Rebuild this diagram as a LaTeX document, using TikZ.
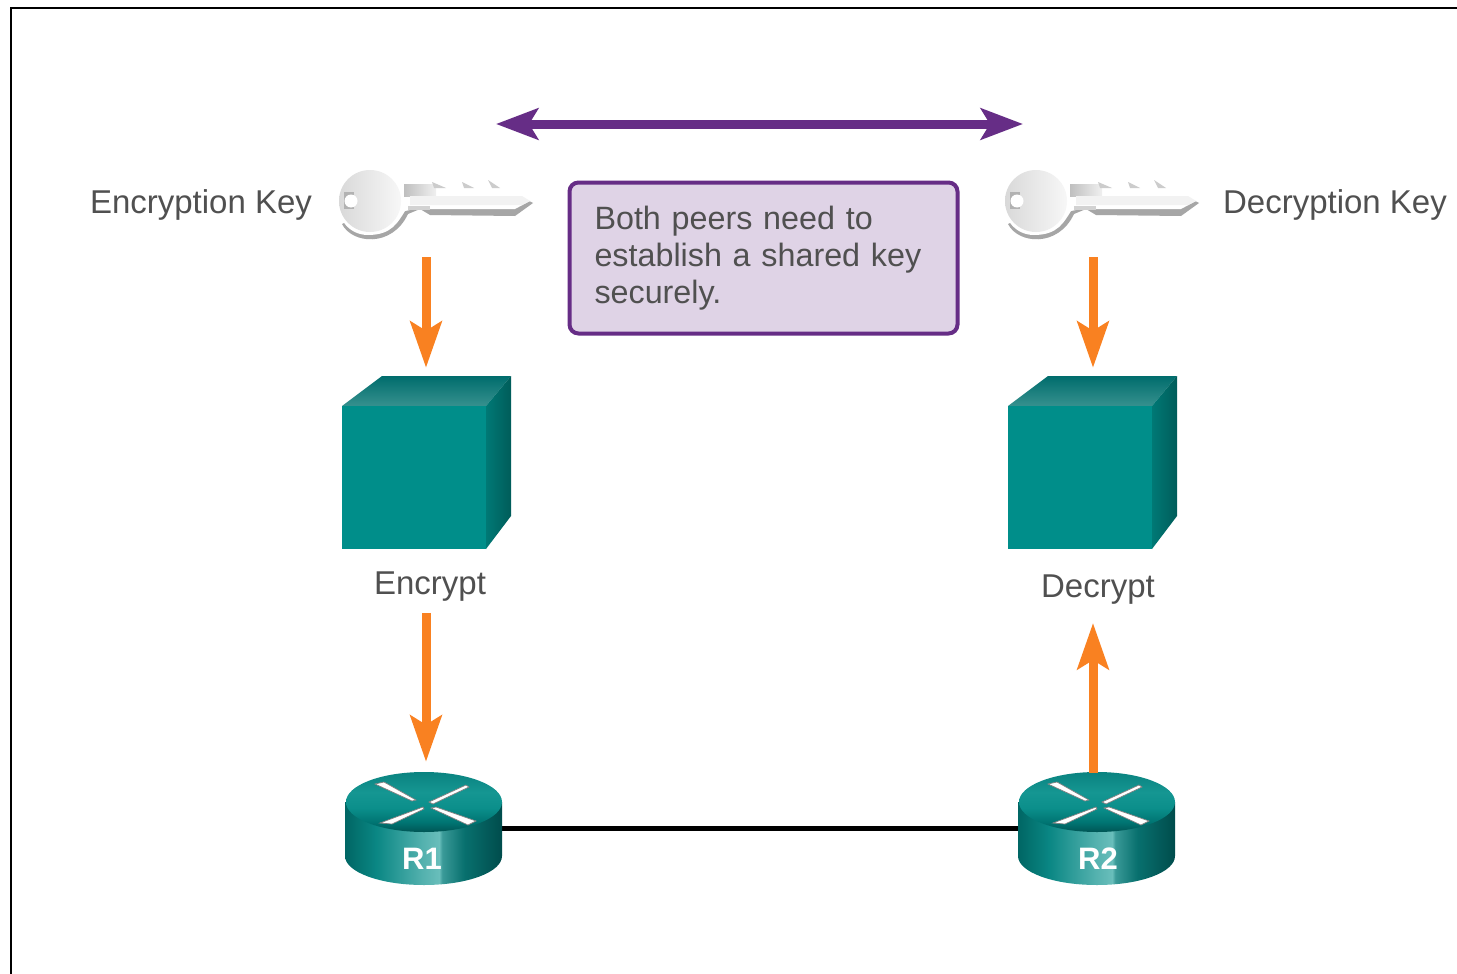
\documentclass[tikz,border=0pt]{standalone}
\usepackage{fontspec}
\setmainfont{Liberation Sans}
\usetikzlibrary{arrows.meta}
\definecolor{txt}{HTML}{505050}
\definecolor{purp}{HTML}{662D86}
\definecolor{boxfill}{HTML}{DFD3E6}
\definecolor{orng}{HTML}{F98121}
\definecolor{cubefront}{HTML}{008E8A}
\definecolor{rsA}{HTML}{006664}
\definecolor{rsB}{HTML}{0A8784}
\definecolor{rsC}{HTML}{55B2AF}
\definecolor{rsD}{HTML}{69BEBB}
\definecolor{rsE}{HTML}{3A9A98}
\definecolor{rsF}{HTML}{08706E}
\definecolor{rsG}{HTML}{004C4C}
\definecolor{rtA}{HTML}{005554}
\definecolor{rtB}{HTML}{007472}
\definecolor{rtC}{HTML}{0B8F8B}
\definecolor{rtD}{HTML}{159692}
\definecolor{rtE}{HTML}{0A8380}
\pgfdeclarehorizontalshading{routerside}{100bp}{
  color(0bp)=(rsA);
  color(25bp)=(rsA);
  color(35bp)=(rsB);
  color(50bp)=(rsC);
  color(55bp)=(rsD);
  color(56bp)=(rsE);
  color(63bp)=(rsF);
  color(75bp)=(rsG);
  color(100bp)=(rsG)}
\pgfdeclareverticalshading{routertop}{100bp}{
  color(0bp)=(rtA);
  color(25bp)=(rtA);
  color(33bp)=(rtB);
  color(45bp)=(rtC);
  color(58bp)=(rtD);
  color(75bp)=(rtE);
  color(100bp)=(rtE)}
\tikzset{
  every node/.style={font=\fontsize{33}{37}\selectfont, text=txt, inner sep=0pt},
  frameline/.style={draw=black, line width=2pt},
  anchorbox/.style={minimum width=150pt, minimum height=80pt},
  orangearrow/.style={draw=orng, line width=9pt, -{Stealth[length=46pt,width=31pt,inset=9pt]}},
  purplearrow/.style={draw=purp, line width=9pt, {Stealth[length=42pt,width=31pt,inset=9pt]}-{Stealth[length=42pt,width=31pt,inset=9pt]}},
  linkline/.style={draw=black, line width=5pt},
  notebox/.style={draw=purp, fill=boxfill, line width=4pt, rounded corners=9pt,
    font=\fontsize{32.3}{37}\selectfont,
    minimum width=388pt, minimum height=151pt, text width=338pt, align=left},
  routerlabel/.style={text=white, font=\fontsize{31}{31}\selectfont\bfseries},
  keyart/.pic={
    % shadow
    \fill[gray!70] (342,224) .. controls (352,244) and (392,248) .. (408,214)
       -- (420,209) -- (430,215) -- (515,216) -- (533,203) -- (520,196) -- (400,196) -- cycle;
    % body
    \fill[white] (337,200) .. controls (337,176) and (360,160) .. (381,166)
       .. controls (392,169) and (397,178) .. (405,184)
       -- (452,184) -- (460,188) -- (480,186) -- (490,182) -- (500,190) -- (507,186) -- (530,201)
       -- (515,209) -- (415,209) -- (405,211)
       .. controls (398,222) and (392,235) .. (368,235)
       .. controls (350,235) and (337,220) .. (337,200) -- cycle;
    \shade[left color=gray!30, right color=gray!6] (370,201) circle[radius=31];
    \shade[left color=gray!50, right color=gray!12] (404,184) rectangle (436,196);
    \fill[gray!35] (408,206) rectangle (430,210);
    \fill[gray!10] (410,196) -- (522,196) -- (530,201) -- (522,205) -- (410,205) -- cycle;
    \fill[gray!60] (344,192) rectangle (354,209);
    \fill[white] (351,201) circle[radius=6.5];
    \fill[gray!40] (432,182) -- (446,188) -- (434,188) -- cycle;
    \fill[gray!40] (462,182) -- (474,188) -- (464,188) -- cycle;
    \fill[gray!40] (488,180) -- (500,188) -- (492,188) -- cycle;
  },
  cubeart/.pic={
    \shade[top color=teal!85!black, bottom color=cubefront!75!white!85!black]
       (342,406) -- (382,376) -- (511,376) -- (486,406) -- cycle;
    \shade[left color=cubefront!85!black, right color=cubefront!65!black]
       (486,406) -- (511,376) -- (511,516) -- (486,549) -- cycle;
    \fill[cubefront] (342,406) rectangle (486,549);
  },
  routerart/.pic={
    \shade[shading=routerside] (345,802) -- (345,856)
       .. controls (345,872) and (380,885) .. (424,885)
       .. controls (468,885) and (502,872) .. (502,856) -- (502,802) -- cycle;
    \shade[shading=routertop]
       (424,802) ellipse[x radius=78, y radius=30];
    \fill[white, draw=gray, line width=.7pt] (375,784) -- (384,782) -- (416,800) -- (412,801) -- cycle;
    \fill[white, draw=gray, line width=.7pt] (429,802) -- (466,785) -- (469,787) -- (433,804) -- cycle;
    \fill[white, draw=gray, line width=.7pt] (380,823) -- (423,807) -- (424,809) -- (392,824) -- cycle;
    \fill[white, draw=gray, line width=.7pt] (431,808) -- (436,807) -- (476,821) -- (468,825) -- cycle;
  }
}
\begin{document}
\begin{tikzpicture}[x=1pt,y=-1pt]
\useasboundingbox (0,0) rectangle (1457,974);
\fill[white] (0,0) rectangle (1457,974);
\coordinate (frameTR) at (1457,8);
\coordinate (frameTL) at (11,8);
\coordinate (frameBL) at (11,974);
\draw[frameline] (frameBL) -- (frameTL) -- (frameTR);

% anchor nodes
\node[anchorbox] (keyL) at (426,203) {};
\node[anchorbox] (keyR) at (1093,203) {};
\node[minimum width=170pt, minimum height=173pt] (cubeL) at (426,462.5) {};
\node[minimum width=170pt, minimum height=173pt] (cubeR) at (1093,462.5) {};
\node[minimum width=157pt, minimum height=112pt] (rL) at (426,829) {};
\node[minimum width=157pt, minimum height=112pt] (rR) at (1093,829) {};

\pic at (0,0) {keyart};
\pic at (666,0) {keyart};
\pic at (0,0) {cubeart};
\pic at (666,0) {cubeart};
\draw[linkline] (480,828) coordinate (linkA) -- (1040,828) coordinate (linkB);
\pic at (0,0) {routerart};
\pic at (673,0) {routerart};

\node (encKey) at (201,205) {Encryption Key};
\node (decKey) at (1335,205) {Decryption Key};
\node (encT) at (430,587) {Encrypt};
\node (decT) at (1098,590) {Decrypt};
\node[routerlabel] (r1T) at (422,859) {R1};
\node[routerlabel] (r2T) at (1098,859) {R2};
\node[notebox] (note) at (763.5,258) {\raisebox{-2pt}{Both peers need to}\\\raisebox{-2pt}{establish a shared key}\\\raisebox{-2pt}{securely.}};

\coordinate (pL) at (496,124);
\coordinate (pR) at (1023,124);
\draw[purplearrow] (pL) -- (pR);

\draw[orangearrow, shorten <=14pt, shorten >=8pt] (keyL.south) -- (cubeL.north);
\draw[orangearrow, shorten <=14pt, shorten >=8pt] (keyR.south) -- (cubeR.north);
\draw[orangearrow, shorten <=11pt, shorten >=11pt] (encT.south -| rL.north) -- (rL.north);
\draw[orangearrow, shorten >=18pt] (rR.north) -- (decT.south -| rR.north);
\end{tikzpicture}
\end{document}
